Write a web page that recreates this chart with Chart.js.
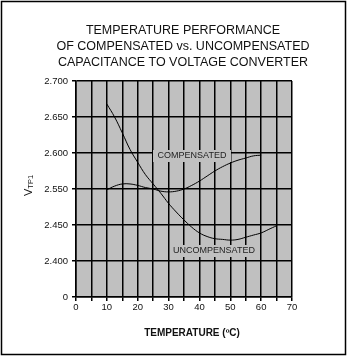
<!DOCTYPE html>
<html lang="en">
	<head>
		<meta charset="UTF-8" />
		<meta name="viewport" content="width=device-width, initial-scale=1.0" />
		<title>Temperature Performance</title>
		<script src="https://cdn.jsdelivr.net/npm/chart.js@4.4.3/dist/chart.umd.min.js"></script>
	</head>

	<style>
		body {
			margin: 0;
			background: #ffffff;
		}
	</style>
	<body>
		<canvas id="tempChart" width="347" height="357"></canvas>

		<script>
			// temperature (degC) and VTP1 (V) for each converter
			const uncompTemps = [10, 12.5, 15, 17.5, 20, 22.5, 25, 27.5, 30, 32.5, 35, 37.5, 40, 42.5, 45, 47.5, 50, 52.5, 55, 57.5, 60, 62.5, 65];
			const uncompVolts = [2.668, 2.65, 2.628, 2.605, 2.587, 2.57, 2.557, 2.544, 2.53, 2.518, 2.507, 2.497, 2.489, 2.484, 2.481, 2.48, 2.479, 2.48, 2.483, 2.486, 2.489, 2.494, 2.499];

			const compTemps = [10, 12.5, 15, 17.5, 20, 22.5, 25, 27.5, 30, 32.5, 35, 37.5, 40, 42.5, 45, 47.5, 50, 52.5, 55, 57.5, 60];
			const compVolts = [2.549, 2.554, 2.557, 2.557, 2.555, 2.552, 2.55, 2.547, 2.546, 2.547, 2.55, 2.555, 2.561, 2.568, 2.575, 2.581, 2.586, 2.59, 2.593, 2.596, 2.597];

			// y tick labels from bottom to top, as printed on the axis
			const yTickLabels = ["0", "2.400", "2.450", "2.550", "2.600", "2.650", "2.700"];

			const titleLines = [
				"TEMPERATURE PERFORMANCE",
				"OF COMPENSATED vs. UNCOMPENSATED",
				"CAPACITANCE TO VOLTAGE CONVERTER",
			];

			function toPoints(xs, ys) {
				return xs.map((x, i) => ({ x: x, y: ys[i] }));
			}

			// gray plot area, frame, titles and curve labels
			const decorations = {
				id: "decorations",
				beforeDraw(chart) {
					const { ctx, chartArea } = chart;
					ctx.save();
					ctx.fillStyle = "#c0c0c0";
					ctx.fillRect(
						chartArea.left,
						chartArea.top,
						chartArea.right - chartArea.left,
						chartArea.bottom - chartArea.top
					);
					ctx.restore();
				},
				afterDatasetsDraw(chart) {
					const ctx = chart.ctx;
					const labels = [
						{ text: "COMPENSATED", x: 192, y: 156, w: 78 },
						{ text: "UNCOMPENSATED", x: 214, y: 251, w: 88 },
					];
					ctx.save();
					ctx.font = "9px Arial, 'Liberation Sans', sans-serif";
					ctx.textAlign = "center";
					ctx.textBaseline = "middle";
					labels.forEach((l) => {
						ctx.fillStyle = "#c0c0c0";
						ctx.fillRect(l.x - l.w / 2, l.y - 6, l.w, 12);
						ctx.fillStyle = "#222222";
						ctx.fillText(l.text, l.x, l.y);
					});
					ctx.restore();
				},
				afterDraw(chart) {
					const ctx = chart.ctx;
					ctx.save();

					// outer frame
					ctx.strokeStyle = "#000000";
					ctx.lineWidth = 1.5;
					ctx.strokeRect(1.5, 1.5, 344, 353);

					// title
					ctx.fillStyle = "#111111";
					ctx.font = "12.5px Arial, 'Liberation Sans', sans-serif";
					ctx.textAlign = "center";
					ctx.textBaseline = "middle";
					titleLines.forEach((line, i) => {
						ctx.fillText(line, 183, 31 + i * 15.7);
					});

					// x axis title
					ctx.font = "bold 10px Arial, 'Liberation Sans', sans-serif";
					ctx.fillText("TEMPERATURE (\u00baC)", 192, 333);

					// y axis title with subscript
					ctx.translate(32, 196);
					ctx.rotate(-Math.PI / 2);
					ctx.textAlign = "left";
					ctx.textBaseline = "alphabetic";
					ctx.font = "11px Arial, 'Liberation Sans', sans-serif";
					ctx.fillText("V", 0, 0);
					const vw = ctx.measureText("V").width;
					ctx.font = "7.5px Arial, 'Liberation Sans', sans-serif";
					ctx.fillText("TP1", vw, 0.5);

					ctx.restore();
				},
			};

			document.addEventListener("DOMContentLoaded", function () {
				const ctx = document.getElementById("tempChart").getContext("2d");

				const tempChart = new Chart(ctx, {
					type: "line",
					data: {
						datasets: [
							{
								label: "Uncompensated",
								data: toPoints(uncompTemps, uncompVolts),
								borderColor: "#000000",
								borderWidth: 1,
								pointRadius: 0,
								tension: 0.4,
								fill: false,
							},
							{
								label: "Compensated",
								data: toPoints(compTemps, compVolts),
								borderColor: "#000000",
								borderWidth: 1,
								pointRadius: 0,
								tension: 0.4,
								fill: false,
							},
						],
					},
					options: {
						responsive: false,
						animation: false,
						events: [],
						layout: {
							autoPadding: false,
							padding: { left: 0, top: 81, right: 55, bottom: 0 },
						},
						plugins: {
							legend: { display: false },
							tooltip: { enabled: false },
						},
						scales: {
							x: {
								type: "linear",
								min: 0,
								max: 70,
								afterFit: (scale) => {
									scale.height = 60;
								},
								border: { color: "#000000", width: 1.5 },
								grid: {
									color: "#000000",
									lineWidth: 1.5,
									tickLength: 4,
								},
								ticks: {
									stepSize: 5,
									autoSkip: false,
									maxRotation: 0,
									padding: 1,
									color: "#111111",
									font: { family: "Arial, 'Liberation Sans', sans-serif", size: 9.5 },
									callback: (value) => (value % 10 === 0 ? value : ""),
								},
							},
							y: {
								type: "linear",
								min: 2.4,
								max: 2.7,
								afterFit: (scale) => {
									scale.width = 76;
								},
								border: { color: "#000000", width: 1.5 },
								grid: {
									color: "#000000",
									lineWidth: 1.5,
									tickLength: 4,
								},
								ticks: {
									stepSize: 0.05,
									padding: 4,
									color: "#111111",
									font: { family: "Arial, 'Liberation Sans', sans-serif", size: 9.5 },
									callback: (value, index) => yTickLabels[index],
								},
							},
						},
					},
					plugins: [decorations],
				});
			});
		</script>
	</body>
</html>
